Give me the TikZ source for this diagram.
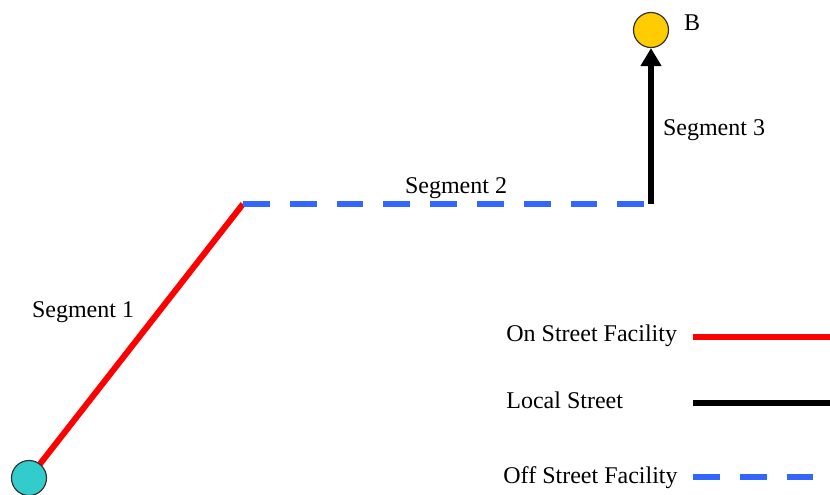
\documentclass[tikz,border=0pt]{standalone}
\usepackage{fontspec}
\setmainfont{Liberation Serif}
\usetikzlibrary{arrows.meta}

\definecolor{onred}{HTML}{FF0000}
\definecolor{offblue}{HTML}{3366FF}
\definecolor{startcyan}{HTML}{33CCCC}
\definecolor{endgold}{HTML}{FFCC00}

\tikzset{
  onstreet/.style={draw=onred, line width=3pt},
  localst/.style={draw=black, line width=3pt},
  offstreet/.style={draw=offblue, line width=3pt, dash pattern=on 13.4pt off 10pt},
  stop/.style={circle, draw=black!80, line width=0.6pt, inner sep=0pt, minimum size=17.5pt},
  lbl/.style={font=\fontsize{12}{14}\selectfont, inner sep=0pt}
}

\begin{document}
\begin{tikzpicture}[x=0.5pt, y=-0.5pt]
  \useasboundingbox (0,0) rectangle (830,494);

  \coordinate (turn) at (243,204);
  \coordinate (corner) at (651,204);

  \draw[onstreet] (29,478) -- (turn);
  \draw[offstreet] (turn) -- (corner);
  \node[stop, fill=startcyan] (A) at (29,478) {};
  \node[stop, fill=endgold] (B) at (651,30) {};
  \draw[localst, -{Triangle[width=10pt, length=9pt]}] (corner) -- (B);

  \node[lbl, anchor=base] (bl) at (692,30) {B};
  \node[lbl, anchor=base] (s1) at (83,317) {Segment 1};
  \node[lbl, anchor=base] (s2) at (456,193) {Segment 2};
  \node[lbl, anchor=base] (s3) at (714,135) {Segment 3};

  % legend
  \node[lbl, anchor=base west] (on) at (506,341) {On Street Facility};
  \node[lbl, anchor=base west] (loc) at (506,408) {Local Street};
  \node[lbl, anchor=base west] (off) at (503,483) {Off Street Facility};

  \coordinate (on1) at (693,337);  \coordinate (on2) at (830,337);
  \coordinate (loc1) at (693,403); \coordinate (loc2) at (830,403);
  \coordinate (off1) at (693,477); \coordinate (off2) at (830,477);
  \draw[onstreet] (on1) -- (on2);
  \draw[localst] (loc1) -- (loc2);
  \draw[offstreet] (off1) -- (off2);
\end{tikzpicture}
\end{document}
